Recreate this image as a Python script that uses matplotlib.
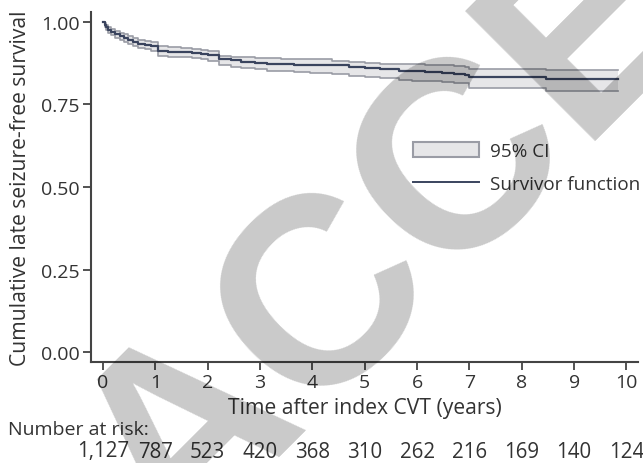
import matplotlib
matplotlib.use('Agg')
import matplotlib.pyplot as plt
from matplotlib.patches import Patch
from matplotlib.lines import Line2D

# Kaplan-Meier estimate (step function, post)
times = [0, 0.03, 0.06, 0.10, 0.15, 0.23, 0.32, 0.40, 0.48, 0.57, 0.67, 0.80, 0.92,
         1.05, 1.25, 1.49, 1.70, 1.87, 2.0, 2.22, 2.45, 2.64, 2.90, 3.14, 3.40, 3.65,
         3.95, 4.38, 4.70, 5.01, 5.30, 5.65, 5.90, 6.15, 6.47, 6.70, 6.91, 7.0, 8.46, 9.84]
surv = [1.000, 0.992, 0.985, 0.975, 0.969, 0.962, 0.956, 0.951, 0.946, 0.940, 0.934, 0.930, 0.927,
        0.913, 0.910, 0.908, 0.905, 0.903, 0.899, 0.888, 0.884, 0.880, 0.876, 0.873, 0.872, 0.871,
        0.870, 0.868, 0.864, 0.860, 0.856, 0.852, 0.850, 0.848, 0.845, 0.843, 0.840, 0.832, 0.827, 0.827]
upper = [1.000, 0.997, 0.992, 0.984, 0.979, 0.973, 0.967, 0.962, 0.957, 0.952, 0.946, 0.943, 0.940,
         0.926, 0.923, 0.921, 0.918, 0.916, 0.913, 0.898, 0.895, 0.893, 0.891, 0.890, 0.889, 0.889,
         0.888, 0.883, 0.880, 0.876, 0.874, 0.873, 0.872, 0.870, 0.868, 0.866, 0.863, 0.858, 0.855, 0.855]
lower = [1.000, 0.986, 0.977, 0.966, 0.959, 0.951, 0.944, 0.939, 0.934, 0.928, 0.921, 0.917, 0.913,
         0.898, 0.895, 0.893, 0.890, 0.887, 0.883, 0.868, 0.864, 0.860, 0.856, 0.852, 0.850, 0.848,
         0.846, 0.842, 0.837, 0.832, 0.829, 0.825, 0.822, 0.820, 0.817, 0.816, 0.814, 0.800, 0.792, 0.792]

years = list(range(0, 11))
at_risk = ["1,127", "787", "523", "420", "368", "310", "262", "216", "169", "140", "124"]
yticks = [0.00, 0.25, 0.50, 0.75, 1.00]

plt.rcParams['font.family'] = ['Open Sans', 'DejaVu Sans']
plt.rcParams['font.size'] = 14

line_col = '#3a445e'
band_col = '#e6e6e8'
edge_col = '#9a9ca5'
axis_col = '#444444'
text_col = '#333333'

fig = plt.figure(figsize=(6.43, 4.64), dpi=100)
ax = fig.add_axes([91/643, 1-363/464, 547/643, 350/464])

ax.fill_between(times, lower, upper, step='post', color=band_col, lw=0)
ax.step(times, upper, where='post', color=edge_col, lw=1.2)
ax.step(times, lower, where='post', color=edge_col, lw=1.2)
ax.step(times, surv, where='post', color=line_col, lw=1.6)

ax.set_xlim(-0.23, 10.22)
ax.set_ylim(-0.03, 1.03)
ax.set_xticks(years)
ax.set_yticks(yticks)
ax.set_yticklabels([f"{v:.2f}" for v in yticks])

for s in ['top', 'right']:
    ax.spines[s].set_visible(False)
for s in ['left', 'bottom']:
    ax.spines[s].set_color(axis_col)
    ax.spines[s].set_linewidth(1.5)
ax.tick_params(direction='out', length=6, width=1.3, color=axis_col,
               labelcolor=text_col, labelsize=14, pad=2)

ax.set_xlabel("Time after index CVT (years)", color=text_col, fontsize=15.2)
ax.xaxis.set_label_coords(0.5, (363-398)/350)
ax.set_ylabel("Cumulative late seizure-free survival", color=text_col, fontsize=15.2)
ax.yaxis.set_label_coords((31-91)/547, 0.5)

handles = [Patch(facecolor=band_col, edgecolor=edge_col, lw=1.5),
           Line2D([], [], color=line_col, lw=1.4)]
leg = ax.legend(handles, ["95% CI", "Survivor function"], loc='upper left',
                bbox_to_anchor=(413/643, 1-143/464), bbox_transform=fig.transFigure,
                frameon=False, borderpad=0, borderaxespad=0, handlelength=3.5,
                handleheight=0.85, handletextpad=0.55, labelspacing=0.8,
                fontsize=13.6)
for t in leg.get_texts():
    t.set_color(text_col)

# number at risk table
fig.text(8/643, 1-430/464, "Number at risk:", va='center', ha='left',
         color=text_col, fontsize=14)
for x, n in zip(years, at_risk):
    ax.text(x, (363-452)/350, n, transform=ax.get_xaxis_transform(),
            ha='center', va='center', color=text_col, fontsize=14.8)

# watermark
fig.text(173/643, 1-557/464, "ACCEPTED", rotation=45, rotation_mode='anchor',
         ha='left', va='baseline', fontsize=192, fontweight='bold',
         family='Liberation Sans', color='black', alpha=0.21, zorder=10)

fig.savefig("out.png", dpi=100)
